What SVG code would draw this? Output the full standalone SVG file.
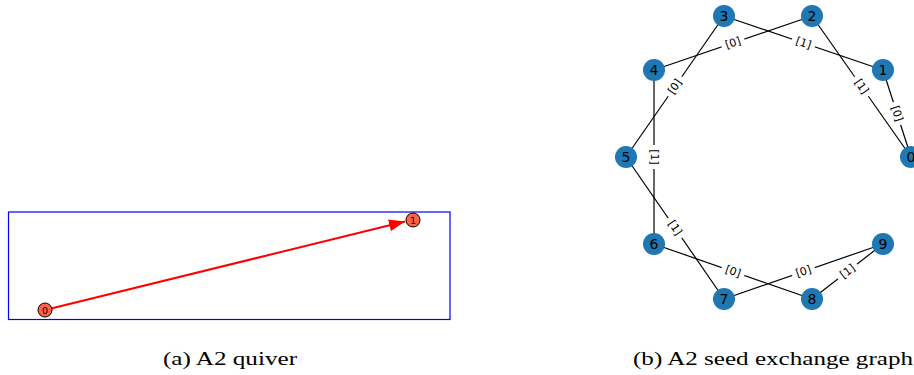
<svg xmlns="http://www.w3.org/2000/svg" width="914" height="375" viewBox="0 0 914 375">
<style>
.cap{font-family:"Liberation Serif","DejaVu Serif",serif;font-size:19.5px;fill:#000}
.qn{fill:#ff6347;stroke:#000;stroke-width:1}
.qt{font-family:"DejaVu Sans",sans-serif;font-size:9.5px;fill:#000;text-anchor:middle;dominant-baseline:central}
.gn{fill:#1f77b4}
.gt{font-family:"DejaVu Sans",sans-serif;font-size:14px;fill:#000;text-anchor:middle;dominant-baseline:central}
.e{stroke:#000;stroke-width:1.2;fill:none}
.lb{fill:#fff}
.lt{font-family:"DejaVu Sans",sans-serif;font-size:11px;fill:#000;text-anchor:middle;dominant-baseline:central}
</style>
<defs>
<marker id="ah" markerWidth="8" markerHeight="6" refX="8" refY="3" orient="auto" markerUnits="strokeWidth">
<path d="M0,0 L8,3 L0,6 Z" fill="#ff0000"/>
</marker>
</defs>
<rect width="914" height="375" fill="#fff"/>
<!-- (a) quiver -->
<rect x="8.5" y="212" width="441.5" height="107.5" fill="none" stroke="#0000ff" stroke-width="1.2"/>
<g id="quiver-edges">
<line x1="45" y1="310" x2="405" y2="221.5" stroke="#ff0000" stroke-width="2" marker-end="url(#ah)"/>
</g>
<g id="q0"><circle class="qn" cx="45" cy="310" r="7"/><text class="qt" x="45" y="310">0</text></g>
<g id="q1"><circle class="qn" cx="413" cy="220" r="7"/><text class="qt" x="413" y="220">1</text></g>
<text class="cap" x="163" y="365" textLength="134" lengthAdjust="spacingAndGlyphs">(a) A2 quiver</text>
<!-- (b) graph -->
<g id="edges">
<line class="e" x1="724" y1="16" x2="883" y2="70"/>
<line class="e" x1="654" y1="70" x2="812" y2="16"/>
<line class="e" x1="724" y1="16" x2="626" y2="157"/>
<line class="e" x1="654" y1="70" x2="654" y2="244"/>
<line class="e" x1="812" y1="16" x2="911" y2="157"/>
<line class="e" x1="883" y1="70" x2="911" y2="157"/>
<line class="e" x1="626" y1="157" x2="724" y2="299"/>
<line class="e" x1="654" y1="244" x2="812" y2="299"/>
<line class="e" x1="724" y1="299" x2="883" y2="244"/>
<line class="e" x1="812" y1="299" x2="883" y2="244"/>
<g transform="translate(803.5,43) rotate(18.8)"><rect class="lb" x="-12" y="-7" width="24" height="14"/><text class="lt" x="0" y="0">[1]</text></g>
<g transform="translate(733,43) rotate(-18.9)"><rect class="lb" x="-12" y="-7" width="24" height="14"/><text class="lt" x="0" y="0">[0]</text></g>
<g transform="translate(675,86.5) rotate(-55.2)"><rect class="lb" x="-12" y="-7" width="24" height="14"/><text class="lt" x="0" y="0">[0]</text></g>
<g transform="translate(654,157) rotate(90)"><rect class="lb" x="-12" y="-7" width="24" height="14"/><text class="lt" x="0" y="0">[1]</text></g>
<g transform="translate(861.5,86.5) rotate(54.9)"><rect class="lb" x="-12" y="-7" width="24" height="14"/><text class="lt" x="0" y="0">[1]</text></g>
<g transform="translate(897,113.5) rotate(72.2)"><rect class="lb" x="-12" y="-7" width="24" height="14"/><text class="lt" x="0" y="0">[0]</text></g>
<g transform="translate(675,228) rotate(55.4)"><rect class="lb" x="-12" y="-7" width="24" height="14"/><text class="lt" x="0" y="0">[1]</text></g>
<g transform="translate(733,271.5) rotate(19.2)"><rect class="lb" x="-12" y="-7" width="24" height="14"/><text class="lt" x="0" y="0">[0]</text></g>
<g transform="translate(803.5,271.5) rotate(-19.1)"><rect class="lb" x="-12" y="-7" width="24" height="14"/><text class="lt" x="0" y="0">[0]</text></g>
<g transform="translate(847.5,271.5) rotate(-37.8)"><rect class="lb" x="-12" y="-7" width="24" height="14"/><text class="lt" x="0" y="0">[1]</text></g>
</g>
<g id="n0"><circle class="gn" cx="911" cy="157" r="11"/><text class="gt" x="911" y="157">0</text></g>
<g id="n1"><circle class="gn" cx="883" cy="70" r="11"/><text class="gt" x="883" y="70">1</text></g>
<g id="n2"><circle class="gn" cx="812" cy="16" r="11"/><text class="gt" x="812" y="16">2</text></g>
<g id="n3"><circle class="gn" cx="724" cy="16" r="11"/><text class="gt" x="724" y="16">3</text></g>
<g id="n4"><circle class="gn" cx="654" cy="70" r="11"/><text class="gt" x="654" y="70">4</text></g>
<g id="n5"><circle class="gn" cx="626" cy="157" r="11"/><text class="gt" x="626" y="157">5</text></g>
<g id="n6"><circle class="gn" cx="654" cy="244" r="11"/><text class="gt" x="654" y="244">6</text></g>
<g id="n7"><circle class="gn" cx="724" cy="299" r="11"/><text class="gt" x="724" y="299">7</text></g>
<g id="n8"><circle class="gn" cx="812" cy="299" r="11"/><text class="gt" x="812" y="299">8</text></g>
<g id="n9"><circle class="gn" cx="883" cy="244" r="11"/><text class="gt" x="883" y="244">9</text></g>
<text class="cap" x="633" y="365" textLength="280" lengthAdjust="spacingAndGlyphs">(b) A2 seed exchange graph</text>
</svg>
